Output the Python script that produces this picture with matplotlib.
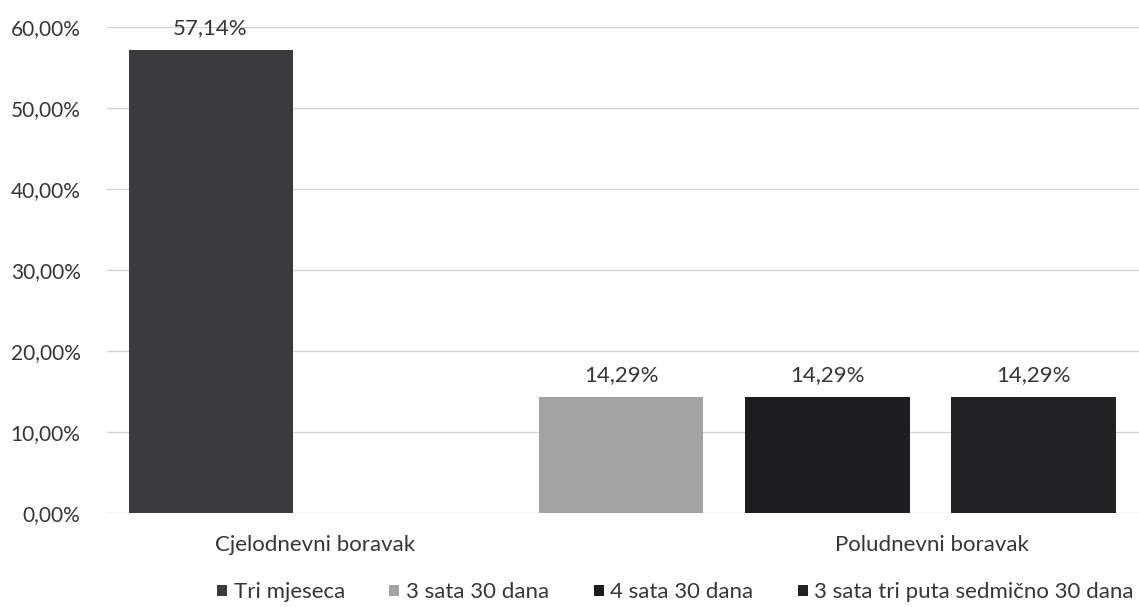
import numpy as np
import matplotlib
matplotlib.use("Agg")
import matplotlib.pyplot as plt

categories = ["Cjelodnevni boravak", "Poludnevni boravak"]
series_names = ["Tri mjeseca", "3 sata 30 dana", "4 sata 30 dana",
                "3 sata tri puta sedmično 30 dana"]
tri_mjeseca = [57.14, 0]
sata3_30_dana = [0, 14.29]
sata4_30_dana = [0, 14.29]
sata3_tri_puta = [0, 14.29]
yticks = [0, 10, 20, 30, 40, 50, 60]

series_values = [tri_mjeseca, sata3_30_dana, sata4_30_dana, sata3_tri_puta]
colors = ["#3b3b3d", "#a3a3a3", "#1d1d1f", "#222224"]

plt.rcParams["font.family"] = ["Lato", "DejaVu Sans"]
text_color = "#363636"


def pct(v):
    return f"{v:.2f}".replace(".", ",") + "%"


fig = plt.figure(figsize=(11.39, 6.07), dpi=100)
ax = fig.add_axes([0.0939, 0.1549, 0.9061, 0.8007])

bar_w = 0.266
pitch = 0.334

# only non-zero bars are drawn, centred on their category
positions = {}
for i in range(len(categories)):
    nz = [s for s in range(len(series_values)) if series_values[s][i] > 0]
    for j, s in enumerate(nz):
        positions[(s, i)] = i + (j - (len(nz) - 1) / 2) * pitch

for s, (name, vals) in enumerate(zip(series_names, series_values)):
    xs = [positions[(s, i)] for i in range(len(categories)) if (s, i) in positions]
    vs = [vals[i] for i in range(len(categories)) if (s, i) in positions]
    bars = ax.bar(xs, vs, width=bar_w, color=colors[s], label=name, zorder=3)
    for b, v in zip(bars, vs):
        ax.annotate(pct(v), (b.get_x() + b.get_width() / 2, v),
                    xytext=(0, 9), textcoords="offset points",
                    ha="center", va="bottom", fontsize=16, color=text_color)

ax.set_xlim(-0.168, 1.505)
ax.set_ylim(0, 60)
ax.set_yticks(yticks)
ax.set_yticklabels([pct(v) for v in yticks])
ax.set_xticks([i + 0.17 for i in range(len(categories))])
ax.set_xticklabels(categories)
ax.tick_params(axis="both", length=0, colors=text_color)
ax.tick_params(axis="y", pad=19, labelsize=15)
ax.tick_params(axis="x", pad=16, labelsize=16)
ax.grid(axis="y", color="#d4d4d4", linewidth=1, zorder=0)
for sp in ax.spines.values():
    sp.set_visible(False)

fig.legend(loc="center", bbox_to_anchor=(0.593, 0.024), ncol=4, frameon=False,
           fontsize=16, handlelength=0.45, handleheight=0.45, handletextpad=0.3,
           columnspacing=2.0, labelcolor=text_color)

fig.savefig("out.png", dpi=100)
